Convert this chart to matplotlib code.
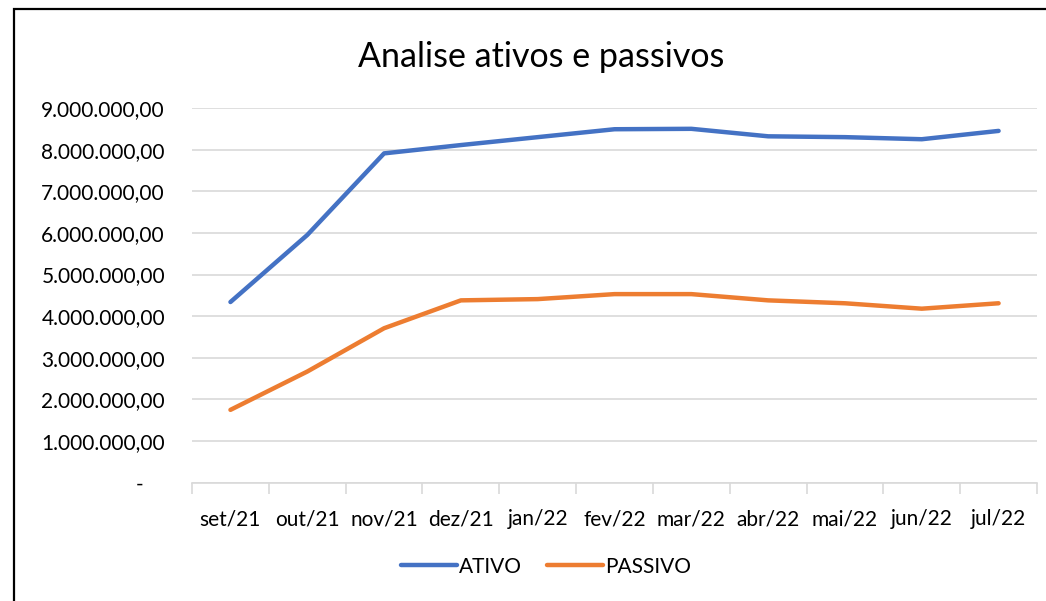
import matplotlib
matplotlib.use("Agg")
import matplotlib.pyplot as plt
from matplotlib.patches import Rectangle
from matplotlib.ticker import FuncFormatter, FixedLocator

plt.rcParams["font.family"] = ["Lato", "DejaVu Sans"]

# data
meses = ["set/21", "out/21", "nov/21", "dez/21", "jan/22", "fev/22",
         "mar/22", "abr/22", "mai/22", "jun/22", "jul/22"]
ativo = [4.34e6, 5.95e6, 7.91e6, 8.11e6, 8.30e6, 8.49e6,
         8.50e6, 8.32e6, 8.30e6, 8.25e6, 8.45e6]
passivo = [1.75e6, 2.67e6, 3.71e6, 4.38e6, 4.41e6, 4.53e6,
           4.53e6, 4.38e6, 4.31e6, 4.18e6, 4.31e6]
y_ticks = [0, 1e6, 2e6, 3e6, 4e6, 5e6, 6e6, 7e6, 8e6, 9e6]

AZUL = "#4472C4"
LARANJA = "#ED7D31"
GRADE = "#D9D9D9"
FS = 15


def fmt_br(v, pos=None):
    if v == 0:
        return "-    "
    s = f"{v:,.2f}"
    return s.replace(",", "X").replace(".", ",").replace("X", ".")


fig = plt.figure(figsize=(10.46, 6.01), dpi=100)
ax = fig.add_axes([0.1836, 0.1968, 0.8078, 0.6235])

x = list(range(len(meses)))
ax.plot(x, ativo, color=AZUL, lw=3.2, solid_capstyle="round",
        solid_joinstyle="round", label="ATIVO")
ax.plot(x, passivo, color=LARANJA, lw=3.2, solid_capstyle="round",
        solid_joinstyle="round", label="PASSIVO")

ax.set_xlim(-0.5, len(meses) - 0.5)
ax.set_ylim(0, 9e6)
ax.set_yticks(y_ticks)
ax.yaxis.set_major_formatter(FuncFormatter(fmt_br))
ax.grid(axis="y", color=GRADE, lw=1.2)
ax.set_axisbelow(True)

ax.set_xticks(x)
ax.set_xticklabels(meses)
ax.xaxis.set_minor_locator(FixedLocator([i - 0.5 for i in range(len(meses) + 1)]))
ax.tick_params(axis="x", which="major", length=0, pad=19, labelsize=FS)
ax.tick_params(axis="x", which="minor", length=8, color=GRADE, width=1.2)
ax.tick_params(axis="y", length=0, pad=19.5, labelsize=FS)

for side in ["top", "right", "left"]:
    ax.spines[side].set_visible(False)
ax.spines["bottom"].set_color(GRADE)
ax.spines["bottom"].set_linewidth(1.2)

fig.text(0.517, 0.905, "Analise ativos e passivos", ha="center", va="center",
         fontsize=24.5)

fig.legend(loc="center", bbox_to_anchor=(0.522, 0.057), ncol=2, frameon=False,
           fontsize=FS, handlelength=2.7, handletextpad=0.1, columnspacing=1.2)

# moldura do grafico (cortada a direita e embaixo)
fig.patches.append(Rectangle((0.0134, -0.05), 1.1, 0.05 + 0.985,
                             transform=fig.transFigure, fill=False,
                             edgecolor="black", lw=1.6, clip_on=False))

fig.savefig("out.png", dpi=100, facecolor="white")
